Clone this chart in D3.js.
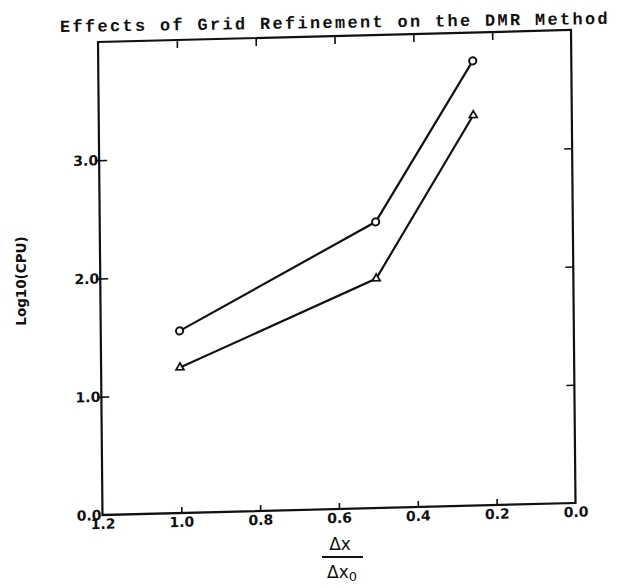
<!DOCTYPE html>
<html>
<head>
<meta charset="utf-8">
<script src="https://cdn.jsdelivr.net/npm/d3@7"></script>
<style>
  html, body { margin: 0; padding: 0; background: #fff; }
  svg { display: block; }
  .tick text { font-family: "DejaVu Sans", sans-serif; font-weight: bold; font-size: 14px; fill: #111; }
</style>
</head>
<body>
<svg id="chart" width="631" height="588"></svg>
<script>
// Grid spacing ratio Δx/Δx0 and log10 of CPU time for the two runs
const ratios = [1.0, 0.5, 0.25];
const circleRun = [1.54, 2.42, 3.76];
const triangleRun = [1.23, 1.94, 3.30];

const xTickValues = [1.2, 1.0, 0.8, 0.6, 0.4, 0.2, 0.0];
const yTickValues = [0, 1, 2, 3];
const titleText = "Effects of Grid Refinement on the DMR Method";
const yLabelText = "Log10(CPU)";

const W = 473, H = 473;
const svg = d3.select("#chart");

const x = d3.scaleLinear().domain([1.2, 0.0]).range([0, W]);
const y = d3.scaleLinear().domain([0, 4]).range([H, 0]);

// Plot area, slightly skewed like the printed page
const g = svg.append("g")
  .attr("transform", "matrix(1,-0.0254,0.0095,1,98,42)");

const fmt = d3.format(".1f");

// Bottom axis: short inward ticks, labels underneath
const axisB = g.append("g")
  .attr("transform", `translate(0,${H})`)
  .call(d3.axisBottom(x).tickValues(xTickValues).tickFormat(fmt).tickSize(-6).tickPadding(4));

// Left axis: inward ticks, labels hugging the frame
const axisL = g.append("g")
  .call(d3.axisLeft(y).tickValues(yTickValues).tickFormat(fmt).tickSize(-8).tickPadding(1));

// Top and right axes: ticks only
const axisT = g.append("g")
  .call(d3.axisTop(x).tickValues(xTickValues.slice(1, -1)).tickSize(-8).tickFormat(""));
const axisR = g.append("g")
  .attr("transform", `translate(${W},0)`)
  .call(d3.axisRight(y).tickValues([1, 2, 3]).tickSize(-8).tickFormat(""));

[axisB, axisL, axisT, axisR].forEach(a => {
  a.select(".domain").remove();
  a.selectAll(".tick line").attr("stroke", "#111").attr("stroke-width", 1.6);
});
axisL.selectAll(".tick line").attr("x1", -4);
// corner ticks at 1.2 and 0.0 sit on the frame itself
axisB.selectAll(".tick line").filter(d => d === 1.2 || d === 0).remove();
axisL.selectAll(".tick line").filter(d => d === 0).remove();

// Frame
g.append("rect")
  .attr("x", 0).attr("y", 0).attr("width", W).attr("height", H)
  .attr("fill", "none").attr("stroke", "#111").attr("stroke-width", 2.2);

// Series lines
const line = d3.line().x((d, i) => x(ratios[i])).y(d => y(d));
[circleRun, triangleRun].forEach(vals => {
  g.append("path")
    .datum(vals)
    .attr("d", line)
    .attr("fill", "none")
    .attr("stroke", "#111")
    .attr("stroke-width", 2.2);
});

// Circle markers
g.selectAll("circle.pt")
  .data(circleRun)
  .join("circle")
  .attr("class", "pt")
  .attr("cx", (d, i) => x(ratios[i]))
  .attr("cy", d => y(d))
  .attr("r", 3.6)
  .attr("fill", "#fff")
  .attr("stroke", "#111")
  .attr("stroke-width", 2);

// Triangle markers
const tri = d3.symbol().type(d3.symbolTriangle).size(26);
g.selectAll("path.tri")
  .data(triangleRun)
  .join("path")
  .attr("class", "tri")
  .attr("d", tri)
  .attr("transform", (d, i) => `translate(${x(ratios[i])},${y(d)})`)
  .attr("fill", "#fff")
  .attr("stroke", "#111")
  .attr("stroke-width", 1.8);

// Title
svg.append("text")
  .attr("transform", "translate(60,32) rotate(-0.85)")
  .attr("font-family", "'Liberation Mono', monospace")
  .attr("font-weight", "bold")
  .attr("font-size", 17)
  .attr("letter-spacing", 2.3)
  .attr("fill", "#111")
  .text(titleText);

// Y axis label
svg.append("text")
  .attr("transform", "translate(26,281) rotate(-90)")
  .attr("text-anchor", "middle")
  .attr("font-family", "'DejaVu Sans', sans-serif")
  .attr("font-weight", "bold")
  .attr("font-size", 13.5)
  .attr("fill", "#111")
  .text(yLabelText);

// X axis label: Δx over Δx0
const xl = svg.append("g").attr("transform", "translate(340,0)");
xl.append("text")
  .attr("x", 0).attr("y", 550)
  .attr("text-anchor", "middle")
  .attr("font-family", "'DejaVu Sans', sans-serif")
  .attr("font-size", 17)
  .attr("fill", "#111")
  .text("Δx");
xl.append("line")
  .attr("x1", -18).attr("x2", 23)
  .attr("y1", 557).attr("y2", 557)
  .attr("stroke", "#111").attr("stroke-width", 2);
const den = xl.append("text")
  .attr("x", 2).attr("y", 578)
  .attr("text-anchor", "middle")
  .attr("font-family", "'DejaVu Sans', sans-serif")
  .attr("font-size", 17)
  .attr("fill", "#111");
den.append("tspan").text("Δx");
den.append("tspan").attr("dy", 3).attr("font-size", 13).text("0");
</script>
</body>
</html>
